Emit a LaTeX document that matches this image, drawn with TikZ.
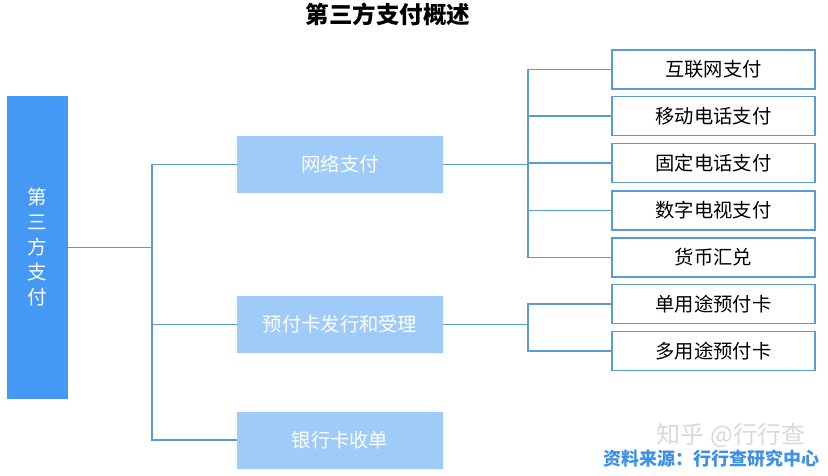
\documentclass[tikz,border=0pt]{standalone}
\usepackage{fontspec}
\setmainfont{Noto Sans CJK SC}
\definecolor{barblue}{HTML}{4499F5}
\definecolor{midblue}{HTML}{9FCBF9}
\definecolor{lineblue}{HTML}{5B9BD5}
\definecolor{srcblue}{HTML}{3D8FE8}
\begin{document}
\begin{tikzpicture}[x=1pt,y=-1pt,
  conn/.style={draw=lineblue,line width=1.8pt},
  midbox/.style={fill=midblue,minimum width=206pt,minimum height=57pt,text=white,inner sep=0pt,font=\fontsize{19.3}{22}\selectfont},
  leafbox/.style={draw=lineblue,line width=1.5pt,fill=white,minimum width=203pt,minimum height=39pt,inner sep=0pt,font=\fontsize{19.3}{22}\selectfont}]
\useasboundingbox (0,0) rectangle (828,475);
\node[font=\bfseries\fontsize{23.5}{26}\selectfont] (title) at (388,14) {第三方支付概述};
\node[fill=barblue,minimum width=61pt,minimum height=303pt,inner sep=0pt] (root) at (37.5,247.5) {};
\node[text=white,font=\fontsize{19.5}{25}\selectfont,align=center] (roottext) at (37.5,247) {第\\三\\方\\支\\付};
\node[midbox] (m1) at (340,164.5) {网络支付};
\node[midbox] (m2) at (340,324.5) {预付卡发行和受理};
\node[midbox] (m3) at (340,440) {银行卡收单};
\node[leafbox] (l1) at (713.5,69.5) {互联网支付};
\node[leafbox] (l2) at (713.5,116) {移动电话支付};
\node[leafbox] (l3) at (713.5,163) {固定电话支付};
\node[leafbox] (l4) at (713.5,210.5) {数字电视支付};
\node[leafbox] (l5) at (713.5,257.5) {货币汇兑};
\node[leafbox] (l6) at (713.5,304) {单用途预付卡};
\node[leafbox] (l7) at (713.5,351) {多用途预付卡};
\coordinate (j0) at (152,247.5);
\coordinate (j1) at (528,164.5);
\coordinate (j2) at (528,324.5);
\draw[conn] (root.east) -- (j0);
\draw[conn] (m1.west) -| (j0) |- (m3.west);
\draw[conn] (m2.west) -- (m2.west -| j0);
\draw[conn] (m1.east) -- (j1);
\draw[conn] (l1.west) -| (j1) |- (l5.west);
\draw[conn] (l2.west) -- (l2.west -| j1);
\draw[conn] (l3.west) -- (l3.west -| j1);
\draw[conn] (l4.west) -- (l4.west -| j1);
\draw[conn] (m2.east) -- (j2);
\draw[conn] (l6.west) -| (j2) |- (l7.west);
\node[text=black!15,font=\fontsize{24}{26}\selectfont] (wm) at (731,435) {知乎 @行行查};
\node[text=srcblue,font=\bfseries\fontsize{18}{20}\selectfont] (src) at (711,459) {资料来源：行行查研究中心};
\end{tikzpicture}
\end{document}
